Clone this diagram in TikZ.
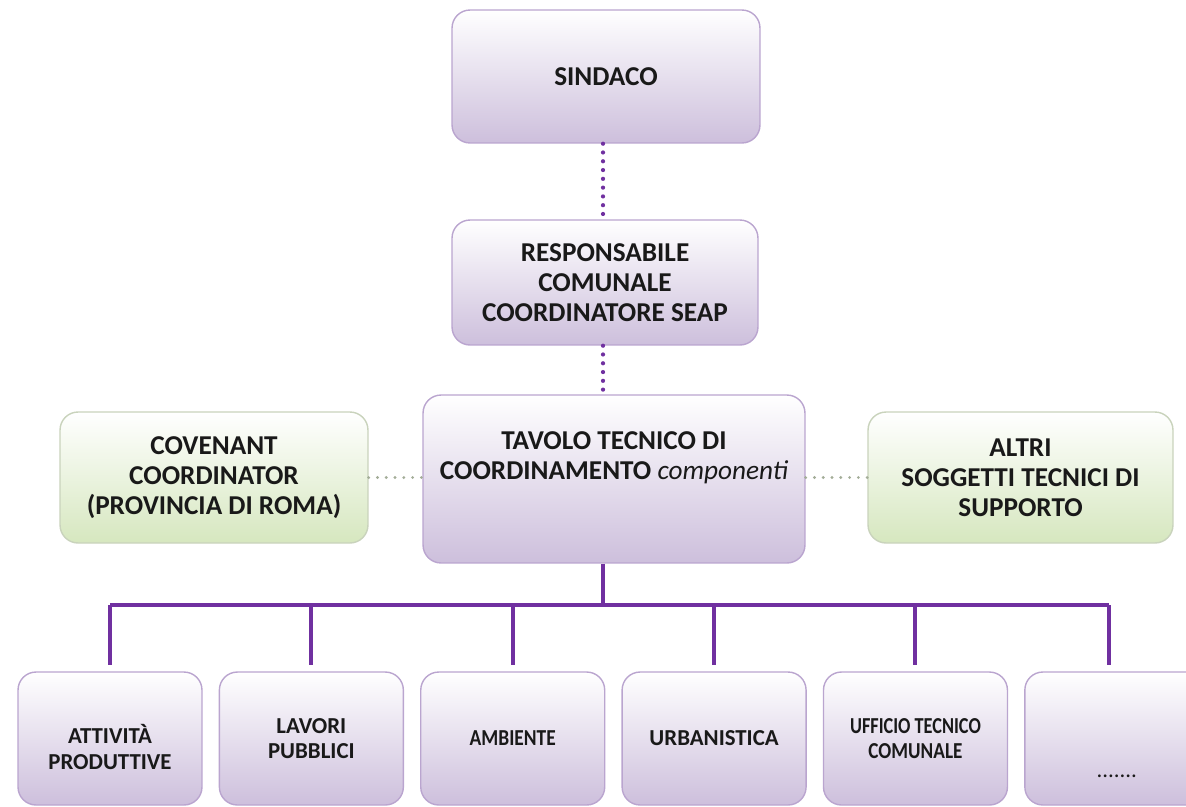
\documentclass[tikz,border=0pt]{standalone}
\usepackage{fontspec}
\setmainfont{Carlito}
\usetikzlibrary{positioning}
\definecolor{lineviola}{HTML}{7030A0}
\definecolor{fillviola}{HTML}{CDBFDC}
\definecolor{drawviola}{HTML}{BAA5CF}
\definecolor{fillverde}{HTML}{D6E7BF}
\definecolor{drawverde}{HTML}{C9D3BC}
\definecolor{dotverde}{HTML}{A3AD98}
\tikzstyle{ente} = [rectangle, rounded corners=0.36cm, draw=drawviola, line width=0.8pt, top color=white, bottom color=fillviola, align=center, text=black!90, font=\fontsize{15.5}{17}\selectfont\bfseries]
\tikzstyle{esterno} = [ente, draw=drawverde, top color=white, bottom color=fillverde]
\tikzstyle{settore} = [ente, minimum width=3.68cm, minimum height=2.66cm, font=\fontsize{13}{14.7}\selectfont\bfseries]
\tikzstyle{link} = [line width=2.3pt, draw=lineviola]
\tikzstyle{dots} = [line width=2.4pt, draw=lineviola, dash pattern=on 0pt off 5pt, line cap=round]
\tikzstyle{sidedots} = [line width=1.8pt, draw=dotverde, dash pattern=on 0pt off 5pt, line cap=round]

\begin{document}
\begin{tikzpicture}[x=0.02cm, y=-0.02cm]
    \useasboundingbox (0,0) rectangle (1186,806);
    \clip (0,0) rectangle (1186,806);
    \coordinate (spine) at (603,0);
    \coordinate (bus) at (603,605);

    \node (sindaco) [ente, minimum width=6.16cm, minimum height=2.66cm] at (606,76.5) {SINDACO};
    \node (responsabile) [ente, minimum width=6.12cm, minimum height=2.5cm] at (605,282.5) {RESPONSABILE\\COMUNALE\\COORDINATORE SEAP};
    \node (tavolo) [ente, minimum width=7.64cm, minimum height=3.36cm] at (614,479) {TAVOLO TECNICO DI\\COORDINAMENTO {\mdseries\itshape componenti}\\[0.35cm]};
    \node (covenant) [esterno, minimum width=6.16cm, minimum height=2.62cm] at (214,477.5) {COVENANT\\COORDINATOR\\(PROVINCIA DI ROMA)};
    \node (altri) [esterno, minimum width=6.1cm, minimum height=2.62cm] at (1020.5,477.5) {ALTRI\\SOGGETTI TECNICI DI\\SUPPORTO};

    \node (attivita) [settore] at (110,738.5) {\\[0.2cm]ATTIVITÀ\\PRODUTTIVE};
    \node (lavori) [settore, right=0.32cm of attivita] {LAVORI\\PUBBLICI};
    \node (ambiente) [settore, right=0.32cm of lavori] {\scalebox{0.85}[1]{AMBIENTE}};
    \node (urbanistica) [settore, right=0.32cm of ambiente] {URBANISTICA};
    \node (ufficio) [settore, right=0.32cm of urbanistica] {\scalebox{0.8}[1]{UFFICIO TECNICO}\\\scalebox{0.84}[1]{COMUNALE}};
    \node (altro) [settore, right=0.32cm of ufficio] {\strut\\[0.7cm]{\mdseries .......}};

    \draw [dots] (sindaco.south -| spine) -- (responsabile.north -| spine);
    \draw [dots] (responsabile.south -| spine) -- (tavolo.north -| spine);
    \draw [sidedots] (covenant.east) -- (tavolo.west |- covenant.east);
    \draw [sidedots] (tavolo.east |- altri.west) -- (altri.west);

    \draw [link] (tavolo.south -| bus) -- (bus);
    \draw [link] (attivita.north |- bus) -- ([xshift=-0.16cm]altro.north |- bus);
    \draw [link] (attivita.north |- bus) -- ([yshift=0.12cm]attivita.north);
    \draw [link] (lavori.north |- bus) -- ([yshift=0.12cm]lavori.north);
    \draw [link] (ambiente.north |- bus) -- ([yshift=0.12cm]ambiente.north);
    \draw [link] (urbanistica.north |- bus) -- ([yshift=0.12cm]urbanistica.north);
    \draw [link] (ufficio.north |- bus) -- ([yshift=0.12cm]ufficio.north);
    \draw [link] ([xshift=-0.16cm]altro.north |- bus) -- ([xshift=-0.16cm, yshift=0.12cm]altro.north);
\end{tikzpicture}
\end{document}
